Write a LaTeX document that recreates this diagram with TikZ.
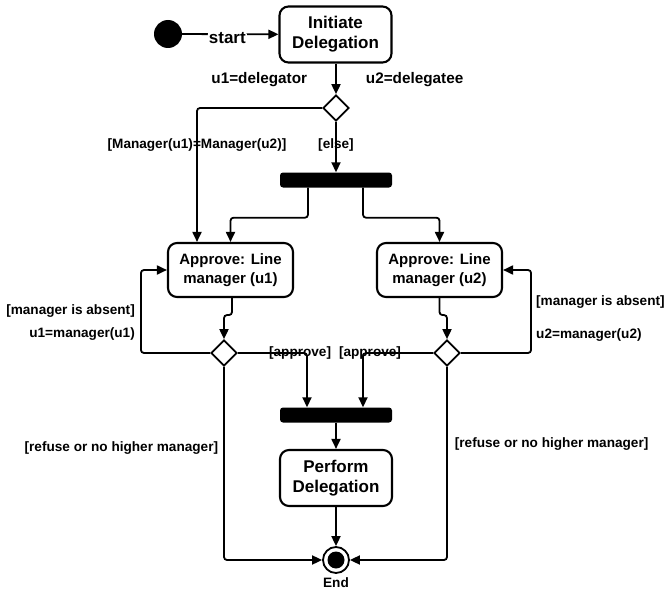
\documentclass[tikz,border=0pt]{standalone}
\usepackage{fontspec}
\setmainfont{Liberation Sans}
\usetikzlibrary{arrows.meta,shapes.geometric,positioning}
\tikzset{
    activity/.style={
    rectangle,rounded corners=9pt,draw=black,line width=2.1pt,fill=white,
    align=center,font=\fontsize{17}{20}\selectfont\bfseries,
    minimum width=112pt,minimum height=56pt,inner sep=0pt
    },
    approve/.style={
    activity,font=\fontsize{15}{19}\selectfont\bfseries,
    minimum width=125pt,minimum height=54pt
    },
    decision/.style={
    diamond,draw=black,line width=1.7pt,fill=white,aspect=1,
    minimum width=26pt,minimum height=26pt,inner sep=0pt
    },
    syncbar/.style={
    rectangle,rounded corners=3pt,fill=black,
    minimum width=112pt,minimum height=15pt,inner sep=0pt
    },
    startdot/.style={
    circle,fill=black,minimum size=28pt,inner sep=0pt
    },
    enddot/.style={
    circle,draw=black,line width=1.8pt,fill=white,minimum size=26pt,inner sep=0pt,
    path picture={\fill[black] (path picture bounding box.center) circle (8.5pt);}
    },
    flow/.style={
    line width=1.8pt,rounded corners=3pt,-{Triangle[length=10pt,width=9pt]}
    },
    guard/.style={
    font=\fontsize{13.6}{16}\selectfont\bfseries,inner sep=1pt
    },
    role/.style={
    guard,font=\fontsize{15.3}{18}\selectfont\bfseries
    },
}
\begin{document}
\begin{tikzpicture}[x=1pt,y=-1pt]
  \useasboundingbox (0,0) rectangle (667,594);

  \node[startdot] (start) at (168,34) {};
  \node[activity] (init) at (335.5,34.5) {Initiate\\Delegation};
  \node[decision] (split) at (336,108) {};
  \node[syncbar] (fork) at (336,180) {};
  \node[approve] (app1) at (230.5,270) {Approve: Line\\manager (u1)};
  \node[approve] (app2) at (439.5,270) {Approve: Line\\manager (u2)};
  \node[decision] (chk1) at (224,353) {};
  \node[decision] (chk2) at (447,353) {};
  \node[syncbar] (join) at (336,415) {};
  \node[activity] (perf) at (336,478) {Perform\\Delegation};
  \node[enddot] (end) at (336,560) {};
  \node[guard,below=3pt of end] (endlbl) {End};

  % loop labels
  \node[guard,anchor=east] (absent1) at (136,311) {[manager is absent]};
  \node[guard,anchor=east] (next1) at (136,334) {u1=manager(u1)};
  \node[guard,anchor=west] (absent2) at (535,302) {[manager is absent]};
  \node[guard,anchor=west] (next2) at (535,335) {u2=manager(u2)};

  \draw[flow] (start) -- node[role,font=\fontsize{17}{20}\selectfont\bfseries,fill=white,inner sep=1pt,xshift=-3pt,yshift=-3.5pt] (startlbl) {start} (init);
  \draw[flow] (init.south -| split) -- node[role,pos=0.54,left=27pt] (u1lbl) {u1=delegator}
                                   node[role,pos=0.54,right=28pt] (u2lbl) {u2=delegatee} (split);
  \draw[flow] (split.west) -| node[guard,pos=0.64] (samelbl) {[Manager(u1)=Manager(u2)]}
                              ([xshift=-33.5pt]app1.north);
  \draw[flow] (split.south) -- node[guard,pos=0.45] (elselbl) {[else]} (fork);
  \draw[flow] ([xshift=-28pt]fork.south) -- ++(0,30) -| (app1.north);
  \draw[flow] ([xshift=27pt]fork.south) -- ++(0,30) -| (app2.north);

  \draw[flow] ([xshift=1.5pt]app1.south) -- ++(0,17) -| (chk1.north);
  \draw[flow] (app2.south) -- ++(0,17) -| (chk2.north);
  \draw[flow] (chk1.west) -| ([xshift=-26pt]app1.west) -- (app1.west);
  \draw[flow] (chk2.east) -| ([xshift=28pt]app2.east) -- (app2.east);

  \draw[flow] (chk1.east) -| node[guard,pos=0.45] (ok1) {[approve]} ([xshift=-29pt]join.north);
  \draw[flow] (chk2.west) -| node[guard,pos=0.45] (ok2) {[approve]} ([xshift=27pt]join.north);
  \draw[flow] (join) -- (perf);
  \draw[flow] (perf) -- (end);

  \draw[flow] (chk1.south) |- node[guard,pos=0.21,left=4pt] (refuse1) {[refuse or no higher manager]} (end.west);
  \draw[flow] (chk2.south) |- node[guard,pos=0.2,right=6pt] (refuse2) {[refuse or no higher manager]} (end.east);
\end{tikzpicture}
\end{document}
